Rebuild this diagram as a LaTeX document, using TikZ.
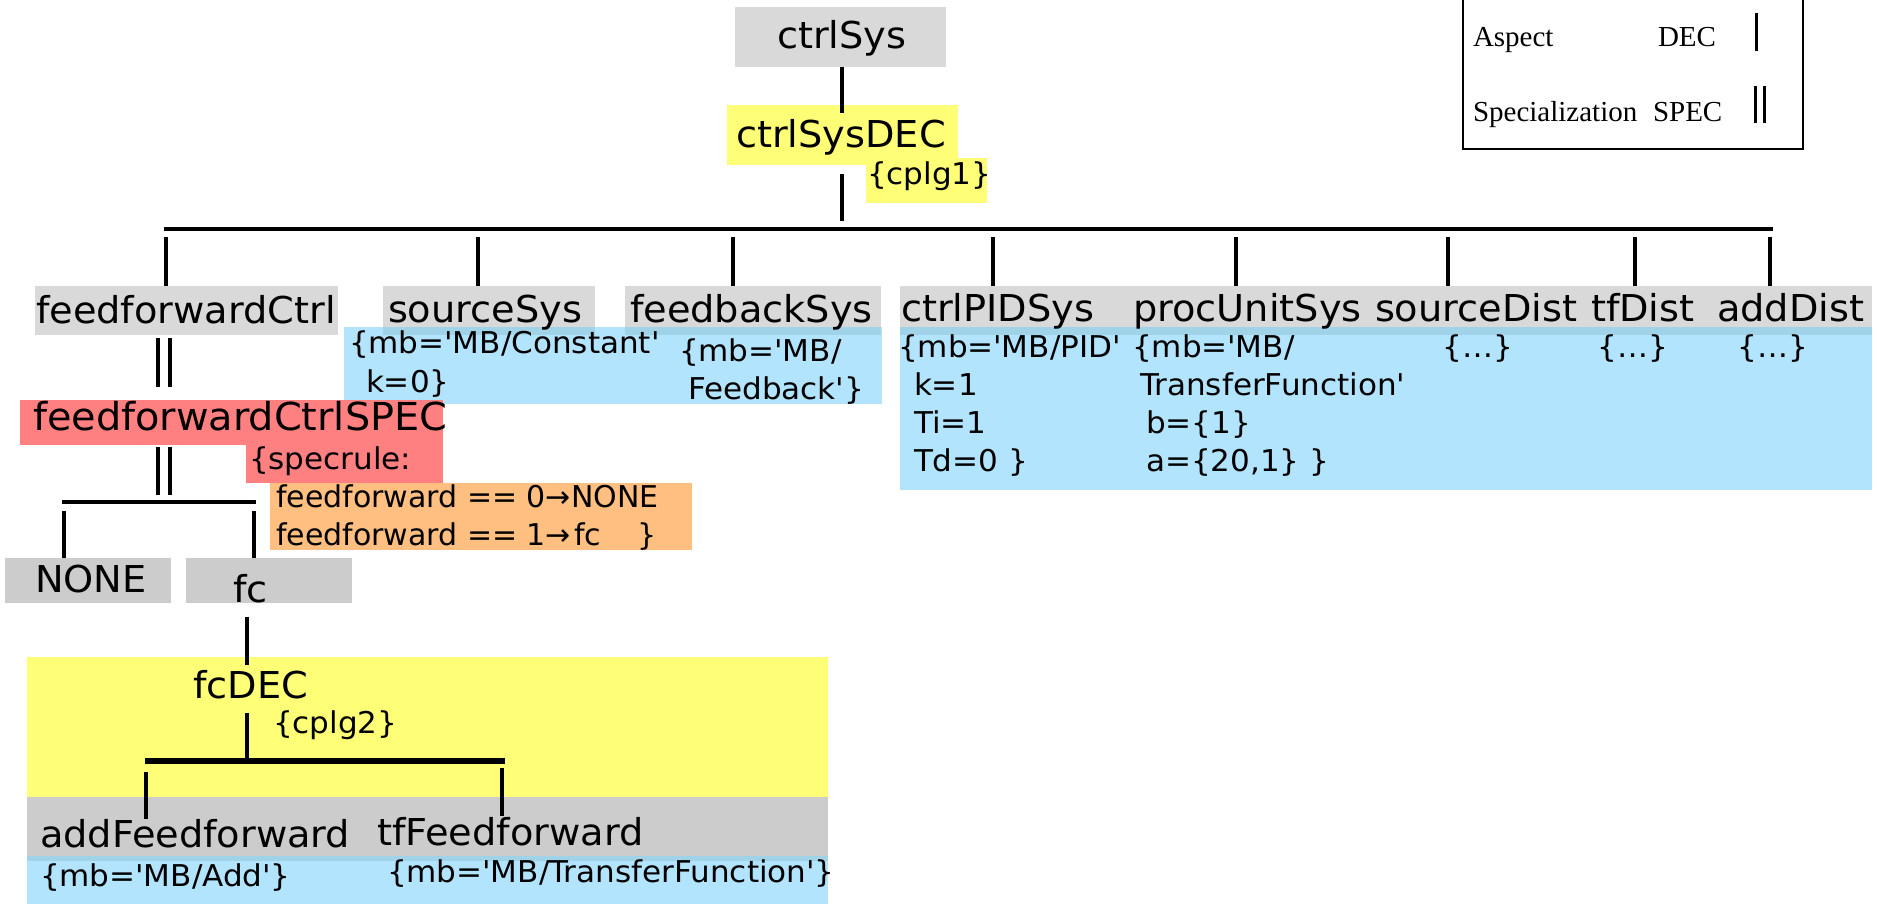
\documentclass[tikz,border=0pt]{standalone}
\usepackage{fontspec}
\setmainfont{DejaVu Sans}[FakeStretch=1.035]
\newfontfamily\plainfont{DejaVu Sans}
\newfontfamily\legfont{Liberation Serif}
\usetikzlibrary{fit}
\definecolor{grayA}{RGB}{217,217,217}
\definecolor{grayB}{RGB}{204,204,204}
\definecolor{yel}{RGB}{255,255,119}
\definecolor{redb}{RGB}{255,128,128}
\definecolor{orng}{RGB}{255,191,128}
\definecolor{blu}{RGB}{178,228,253}
\definecolor{bluD}{RGB}{160,210,232}
\tikzset{
  area/.style={inner sep=0pt, outer sep=0pt, draw=none},
  big/.style={anchor=base west, inner sep=0pt, outer sep=0pt, font=\fontsize{37}{44}\selectfont},
  small/.style={anchor=base west, inner sep=0pt, outer sep=0pt, font=\fontsize{30}{38}\selectfont},
  rule/.style={anchor=base west, inner sep=0pt, outer sep=0pt, font=\plainfont\fontsize{30}{38}\selectfont},
  leg/.style={anchor=base west, inner sep=0pt, outer sep=0pt, font=\legfont\fontsize{29}{34}\selectfont},
  conn/.style={line width=4.5pt},
  bus/.style={line width=3.5pt},
  thickbus/.style={line width=6pt},
  dbl/.style={line width=4pt},
}
\begin{document}
\begin{tikzpicture}[x=1pt,y=-1pt]
\path[use as bounding box] (0,0) rectangle (1877,904);
\clip (0,0) rectangle (1877,904);
% ---------- background areas ----------
\node[area, fill=grayA, fit={(735,7)(946,67)}] (bCtrlSys) {};
\node[area, fill=yel, fit={(727,105)(958,165)}] (bCtrlSysDEC) {};
\node[area, fill=yel, fit={(866,158)(987,203)}] (bCplg1) {};
\node[area, fill=grayA, fit={(35,286)(338,335)}] (bFfCtrl) {};
\node[area, fill=grayA, fit={(383,286)(595,335)}] (bSourceSys) {};
\node[area, fill=grayA, fit={(625,286)(881,335)}] (bFeedbackSys) {};
\node[area, fill=grayA, fit={(900,286)(1872,335)}] (bRow) {};
\node[area, fill=blu, fit={(344,327)(882,404)}] (bAttrA) {};
\node[area, fill=blu, fit={(900,327)(1872,490)}] (bAttrB) {};
\node[area, fill=bluD, fit={(383,327)(595,335)}] (bBandA) {};
\node[area, fill=bluD, fit={(625,327)(881,335)}] (bBandB) {};
\node[area, fill=bluD, fit={(900,327)(1872,335)}] (bBandC) {};
\node[area, fill=redb, fit={(20,400)(443,445)}] (bSpec) {};
\node[area, fill=redb, fit={(246,445)(443,483)}] (bSpecRule) {};
\node[area, fill=orng, fit={(270,483)(692,550)}] (bRules) {};
\node[area, fill=grayB, fit={(5,558)(171,603)}] (bNone) {};
\node[area, fill=grayB, fit={(186,558)(352,603)}] (bFc) {};
\node[area, fill=yel, fit={(27,657)(828,797)}] (bFcDEC) {};
\node[area, fill=grayB, fit={(27,797)(828,856)}] (bFcKids) {};
\node[area, fill=blu, fit={(27,856)(828,904)}] (bFcAttr) {};
\node[area, fill=bluD, fit={(27,856)(828,861)}] (bBandD) {};
% ---------- connector end points ----------
\coordinate (s1) at (842,67);   \coordinate (e1) at (842,113);
\coordinate (s2) at (842,174);  \coordinate (e2) at (842,221);
\coordinate (busL) at (164,229); \coordinate (busR) at (1773,229);
\foreach \n/\x in {d1/166,d2/478,d3/733,d4/993,d5/1236,d6/1448,d7/1635,d8/1770}{
  \coordinate (\n s) at (\x,237); \coordinate (\n e) at (\x,286);}
\coordinate (ga1) at (157.5,338); \coordinate (ga2) at (157.5,387);
\coordinate (gb1) at (169.5,338); \coordinate (gb2) at (169.5,387);
\coordinate (ha1) at (157.5,447); \coordinate (ha2) at (157.5,495);
\coordinate (hb1) at (169.5,447); \coordinate (hb2) at (169.5,495);
\coordinate (sbL) at (62,502); \coordinate (sbR) at (256,502);
\coordinate (n1) at (64,511); \coordinate (n2) at (64,558);
\coordinate (f1) at (254,511); \coordinate (f2) at (254,558);
\coordinate (fc1) at (247,617); \coordinate (fc2) at (247,665);
\coordinate (fd1) at (247,713); \coordinate (fd2) at (247,760);
\coordinate (tbL) at (145,761); \coordinate (tbR) at (505,761);
\coordinate (ad1) at (146,772); \coordinate (ad2) at (146,819);
\coordinate (tf1) at (502,768); \coordinate (tf2) at (502,816);
% ---------- connectors ----------
\draw[conn] (s1) -- (e1);
\draw[conn] (s2) -- (e2);
\draw[bus] (busL) -- (busR);
\foreach \n in {d1,d2,d3,d4,d5,d6,d7,d8}{\draw[conn] (\n s) -- (\n e);}
\draw[dbl] (ga1) -- (ga2); \draw[dbl] (gb1) -- (gb2);
\draw[dbl] (ha1) -- (ha2); \draw[dbl] (hb1) -- (hb2);
\draw[bus] (sbL) -- (sbR);
\draw[conn] (n1) -- (n2);
\draw[conn] (f1) -- (f2);
\draw[conn] (fc1) -- (fc2);
\draw[conn] (fd1) -- (fd2);
\draw[thickbus] (tbL) -- (tbR);
\draw[conn] (ad1) -- (ad2);
\draw[conn] (tf1) -- (tf2);
% ---------- texts ----------
\node[big] (tCtrlSys) at (777,49) {ctrlSys};
\node[big] (tCtrlSysDEC) at (736,148) {ctrlSysDEC};
\node[small] (tCplg1) at (867,185) {\{cplg1\}};
\node[big] (tFfCtrl) at (36,323) {feedforwardCtrl};
\node[big] (tSourceSys) at (388,322) {sourceSys};
\node[big] (tFeedbackSys) at (630,322) {feedbackSys};
\node[big] (tCtrlPID) at (901,321) {ctrlPIDSys};
\node[big] (tProcUnit) at (1133,321) {procUnitSys};
\node[big] (tSourceDist) at (1375,321) {sourceDist};
\node[big] (tTfDist) at (1591,321) {tfDist};
\node[big] (tAddDist) at (1717,321) {addDist};
\node[small] (aSrc1) at (349,353) {\{mb=\textquotesingle MB/Constant\textquotesingle};
\node[small] (aSrc2) at (366,392) {k=0\}};
\node[small] (aFb1) at (679,361) {\{mb=\textquotesingle MB/};
\node[small] (aFb2) at (688,399) {Feedback\textquotesingle\}};
\node[small] (aPid1) at (898,357) {\{mb=\textquotesingle MB/PID\textquotesingle};
\node[small] (aPid2) at (914,395) {k=1};
\node[small] (aPid3) at (914,433) {Ti=1};
\node[small] (aPid4) at (914,471) {Td=0 \}};
\node[small] (aPu1) at (1132,357) {\{mb=\textquotesingle MB/};
\node[small] (aPu2) at (1140,395) {TransferFunction\textquotesingle};
\node[small] (aPu3) at (1146,433) {b=\{1\}};
\node[small] (aPu4) at (1146,471) {a=\{20,1\} \}};
\node[small, anchor=base] (aSd) at (1478,357) {\{…\}};
\node[small, anchor=base] (aTd) at (1633,357) {\{…\}};
\node[small, anchor=base] (aAd) at (1773,357) {\{…\}};
\node[big, font=\fontsize{38.5}{44}\selectfont] (tSpec) at (33,430) {feedforwardCtrlSPEC};
\node[small] (tSpecRule) at (249,469) {\{specrule:};
\node[rule] (tRule1) at (276,507) {feedforward == 0→NONE};
\node[rule] (tRule2) at (276,545) {feedforward == 1→\hspace{3pt}fc\hspace{36pt}\}};
\node[big] (tNone) at (35,592) {NONE};
\node[big] (tFc) at (233,602) {fc};
\node[big] (tFcDEC) at (193,698) {fcDEC};
\node[small] (tCplg2) at (273,733) {\{cplg2\}};
\node[big] (tAddFf) at (40,847) {addFeedforward};
\node[big] (tTfFf) at (377,845) {tfFeedforward};
\node[small] (aAddFf) at (40,886) {\{mb=\textquotesingle MB/Add\textquotesingle\}};
\node[small] (aTfFf) at (387,882) {\{mb=\textquotesingle MB/TransferFunction\textquotesingle\}};
% ---------- legend ----------
\node[area, draw=black, line width=1.5pt, fit={(1463,-10)(1803,149)}] (legend) {};
\node[leg] (lAspect) at (1473,47) {Aspect};
\node[leg] (lDEC) at (1658,47) {DEC};
\node[leg] (lSpecial) at (1473,122) {Specialization};
\node[leg] (lSPEC) at (1653,122) {SPEC};
\coordinate (ld1) at (1756,13); \coordinate (ld2) at (1756,51);
\coordinate (ls1) at (1755,86); \coordinate (ls2) at (1755,123);
\coordinate (lt1) at (1764,86); \coordinate (lt2) at (1764,123);
\draw[line width=3pt] (ld1) -- (ld2);
\draw[line width=3pt] (ls1) -- (ls2);
\draw[line width=3pt] (lt1) -- (lt2);
\end{tikzpicture}
\end{document}
